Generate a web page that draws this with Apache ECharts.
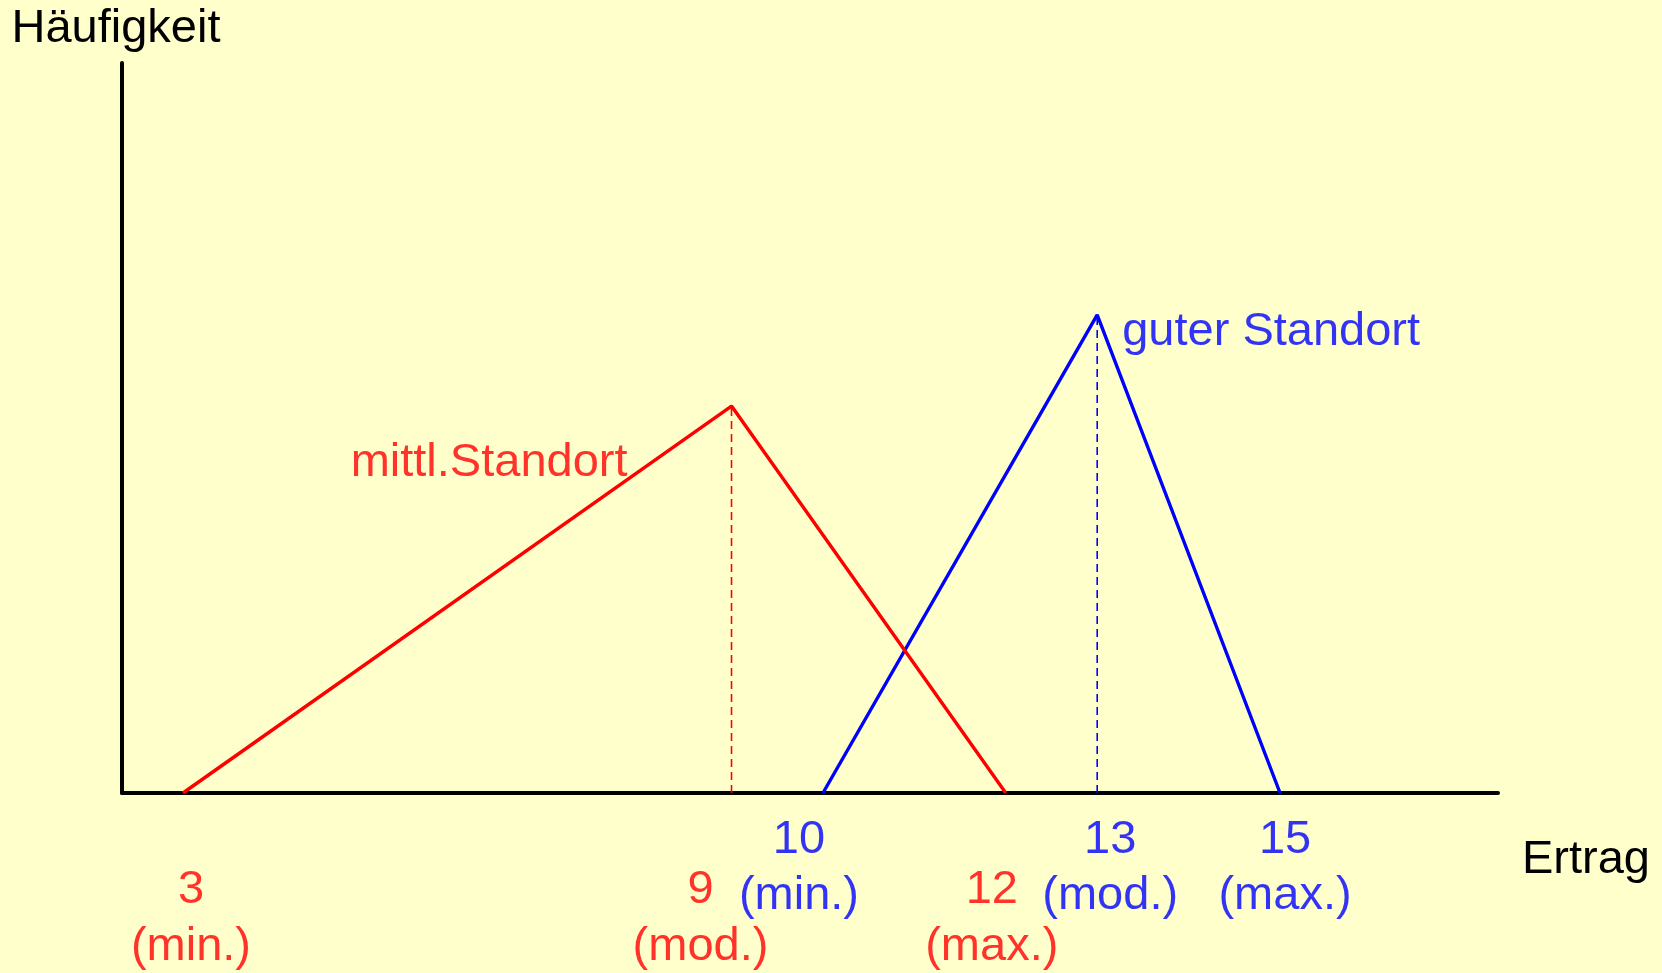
<!DOCTYPE html>
<html>
<head>
<meta charset="utf-8">
<script src="https://cdn.jsdelivr.net/npm/echarts@6/dist/echarts.min.js"></script>
<style>
html,body{margin:0;padding:0;background:#FFFFCC;}
#chart{width:1662px;height:973px;}
</style>
</head>
<body>
<div id="chart"></div>
<script>
// ---- data ----
const redName = 'mittl.Standort';
const blueName = 'guter Standort';
const redX = [3, 9, 12];      // min, mod, max
const blueX = [10, 13, 15];   // min, mod, max
const redPeak = 53;           // relative frequency (arbitrary units)
const bluePeak = 65.5;
const tickSuffix = ['(min.)', '(mod.)', '(max.)'];
const xAxisName = 'Ertrag';
const yAxisName = 'Häufigkeit';

// ---- styling ----
const RED = '#FF0000', BLUE = '#0000FF';
const FONT = '"Liberation Sans", Arial, sans-serif';
const FS = 47;
const redLabelNudge = [8, -31, -14];   // horizontal label nudges (px)
const blueLabelNudge = [-24, 13, 5];

function triangle(xs, peak) {
  return [[xs[0], 0], [xs[1], peak], [xs[2], 0]];
}
function modeLine(xs, peak) {
  return [[xs[1], 0], [xs[1], peak]];
}
function tickLabels(xs, color, dist, lh, nudge) {
  return {
    type: 'scatter', symbolSize: 0, silent: true, z: 5,
    data: xs.map((x, i) => ({
      value: [x, 0], suffix: tickSuffix[i],
      label: { offset: [nudge[i], 0] }
    })),
    label: {
      show: true, position: 'bottom', distance: dist,
      formatter: p => '{n|' + p.data.value[0] + '}\n{s|' + p.data.suffix + '}',
      color: color, fontFamily: FONT, fontSize: FS, lineHeight: lh,
      rich: { n: { color: color, fontFamily: FONT, fontSize: FS, lineHeight: lh },
              s: { color: color, fontFamily: FONT, fontSize: FS, lineHeight: lh } }
    }
  };
}
function nameLabel(xs, peak, text, color, align, offset) {
  return {
    type: 'scatter', symbolSize: 0, silent: true, z: 5,
    data: [[xs[1], peak]],
    label: {
      show: true, position: 'inside', formatter: text, color: color,
      fontFamily: FONT, fontSize: FS, align: align, verticalAlign: 'middle', offset: offset
    }
  };
}

const chart = echarts.init(document.getElementById('chart'), null, { renderer: 'canvas' });
chart.setOption({
  backgroundColor: '#FFFFCC',
  animation: false,
  grid: { left: 122, right: 164, top: 63, bottom: 180 },
  xAxis: {
    type: 'value', min: 2.333, max: 17.384,
    name: xAxisName, nameLocation: 'end', nameGap: 24,
    nameTextStyle: { color: '#000', fontFamily: FONT, fontSize: FS, align: 'left', verticalAlign: 'top', padding: [44, 0, 0, 0] },
    axisLine: { show: true, onZero: true, lineStyle: { color: '#000', width: 4 } },
    axisTick: { show: false }, axisLabel: { show: false }, splitLine: { show: false }
  },
  yAxis: {
    type: 'value', min: 0, max: 100,
    name: yAxisName, nameLocation: 'end', nameGap: 10,
    nameTextStyle: { color: '#000', fontFamily: FONT, fontSize: FS, align: 'center', verticalAlign: 'bottom', padding: [0, 12, 0, 0] },
    axisLine: { show: true, lineStyle: { color: '#000', width: 4 } },
    axisTick: { show: false }, axisLabel: { show: false }, splitLine: { show: false }
  },
  series: [
    { type: 'line', data: modeLine(redX, redPeak), symbol: 'none', silent: true,
      lineStyle: { color: RED, width: 1.6, type: [8, 5] } },
    { type: 'line', data: modeLine(blueX, bluePeak), symbol: 'none', silent: true,
      lineStyle: { color: BLUE, width: 1.6, type: [8, 5] } },
    { type: 'line', name: blueName, data: triangle(blueX, bluePeak), symbol: 'none', silent: true,
      lineStyle: { color: BLUE, width: 3.4 } },
    { type: 'line', name: redName, data: triangle(redX, redPeak), symbol: 'none', silent: true,
      lineStyle: { color: RED, width: 3.4 } },
    tickLabels(redX, RED, 69, 57, redLabelNudge),
    tickLabels(blueX, BLUE, 19, 56, blueLabelNudge),
    nameLabel(redX, redPeak, redName, RED, 'right', [-104, 57]),
    nameLabel(blueX, bluePeak, blueName, BLUE, 'left', [25, 17])
  ]
});
</script>
</body>
</html>
